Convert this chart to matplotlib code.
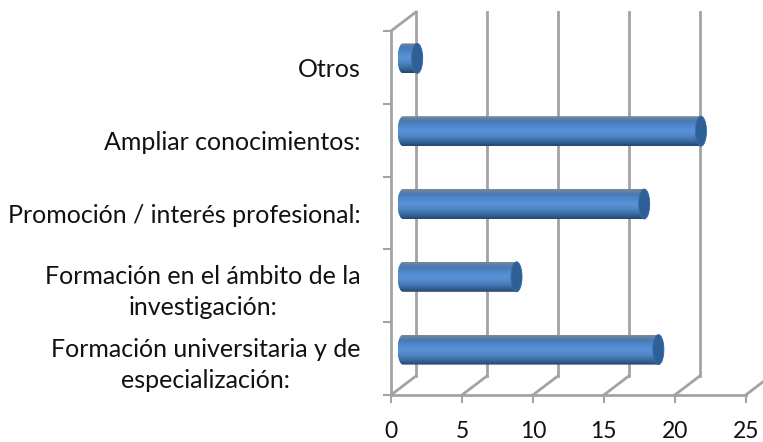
import numpy as np
import matplotlib
matplotlib.use('Agg')
import matplotlib.pyplot as plt
from matplotlib.colors import LinearSegmentedColormap
from matplotlib.patches import Polygon

plt.rcParams['font.family'] = ['Lato', 'DejaVu Sans']

categorias = ['Formación universitaria y de\nespecialización:',
              'Formación en el ámbito de la\ninvestigación:',
              'Promoción / interés profesional:',
              'Ampliar conocimientos:',
              'Otros']
valores = [18, 8, 17, 21, 1]
x_ticks = [0, 5, 10, 15, 20, 25]

W, H = 763, 442
fig = plt.figure(figsize=(W / 100, H / 100), dpi=100)
ax = fig.add_axes([391 / W, 1 - 395 / H, 354.7 / W, 364 / H])
ax.set_xlim(0, 25)
ax.set_ylim(-0.5, 4.5)

gris = '#a3a3a3'
# profundidad de la pared del fondo, en unidades de datos
px_x = 354.7 / 25
px_y = 364 / 5
prof_x = 25 / px_x
prof_y = 19 / px_y

for v in x_ticks:
    ax.plot([v, v + prof_x], [-0.5, -0.5 + prof_y], color=gris, lw=2, clip_on=False, zorder=1)
    ax.plot([v + prof_x] * 2, [-0.5 + prof_y, 4.5 + prof_y], color=gris, lw=2, clip_on=False, zorder=1)
ax.plot([0, prof_x], [4.5, 4.5 + prof_y], color=gris, lw=2, clip_on=False, zorder=1)

# barras cilindricas
cmap = LinearSegmentedColormap.from_list('cil', ['#7d8794', '#4578b5', '#5289cd', '#5a92d8', '#4f86c6', '#3a6ba3', '#24476f'])
grad = np.linspace(0, 1, 64).reshape(-1, 1)
x_base = 12 / px_x
y_desp = 9 / px_y
alto = 30 / px_y
rx = 5.5 / px_x
t = np.linspace(-np.pi / 2, np.pi / 2, 40)

for i, v in enumerate(valores):
    yc = i + y_desp
    x_fin = x_base + v
    der_x = x_fin + rx * np.cos(t)
    der_y = yc + alto / 2 * np.sin(t)
    izq_x = x_base - rx * np.cos(t[::-1])
    izq_y = yc + alto / 2 * np.sin(t[::-1])
    cuerpo = Polygon(np.column_stack([np.r_[der_x, izq_x], np.r_[der_y, izq_y]]),
                     closed=True, fc='none', ec='none', transform=ax.transData)
    ax.add_patch(cuerpo)
    im = ax.imshow(grad, cmap=cmap, aspect='auto', zorder=3, clip_on=True,
                   extent=[x_base - rx, x_fin + rx, yc - alto / 2, yc + alto / 2])
    im.set_clip_path(cuerpo)
    # tapa del extremo
    tapa = Polygon(np.column_stack([np.r_[der_x, x_fin - rx * np.cos(t[::-1])],
                                    np.r_[der_y, yc + alto / 2 * np.sin(t[::-1])]]),
                   closed=True, fc='#2f5f97', ec='#3a6ba3', lw=0.6, zorder=4)
    ax.add_patch(tapa)

ax.set_xlim(0, 25)
ax.set_ylim(-0.5, 4.5)

for s in ['top', 'right']:
    ax.spines[s].set_visible(False)
for s in ['left', 'bottom']:
    ax.spines[s].set_color(gris)
    ax.spines[s].set_linewidth(2)
ax.patch.set_alpha(0)

ax.set_xticks(x_ticks)
ax.set_yticks(np.arange(-0.5, 5))
ax.set_yticklabels([])
ax.set_yticks(np.arange(5), labels=categorias, minor=True, multialignment='center', linespacing=1.42)
ax.tick_params(axis='y', which='major', length=6, width=1.5, color=gris)
ax.tick_params(axis='y', which='minor', length=0, pad=22, labelsize=18, labelcolor='#111111')
ax.tick_params(axis='x', length=6, width=1.5, color=gris, pad=13, labelsize=16.5, labelcolor='#111111')

fig.savefig('out.png', dpi=100)
